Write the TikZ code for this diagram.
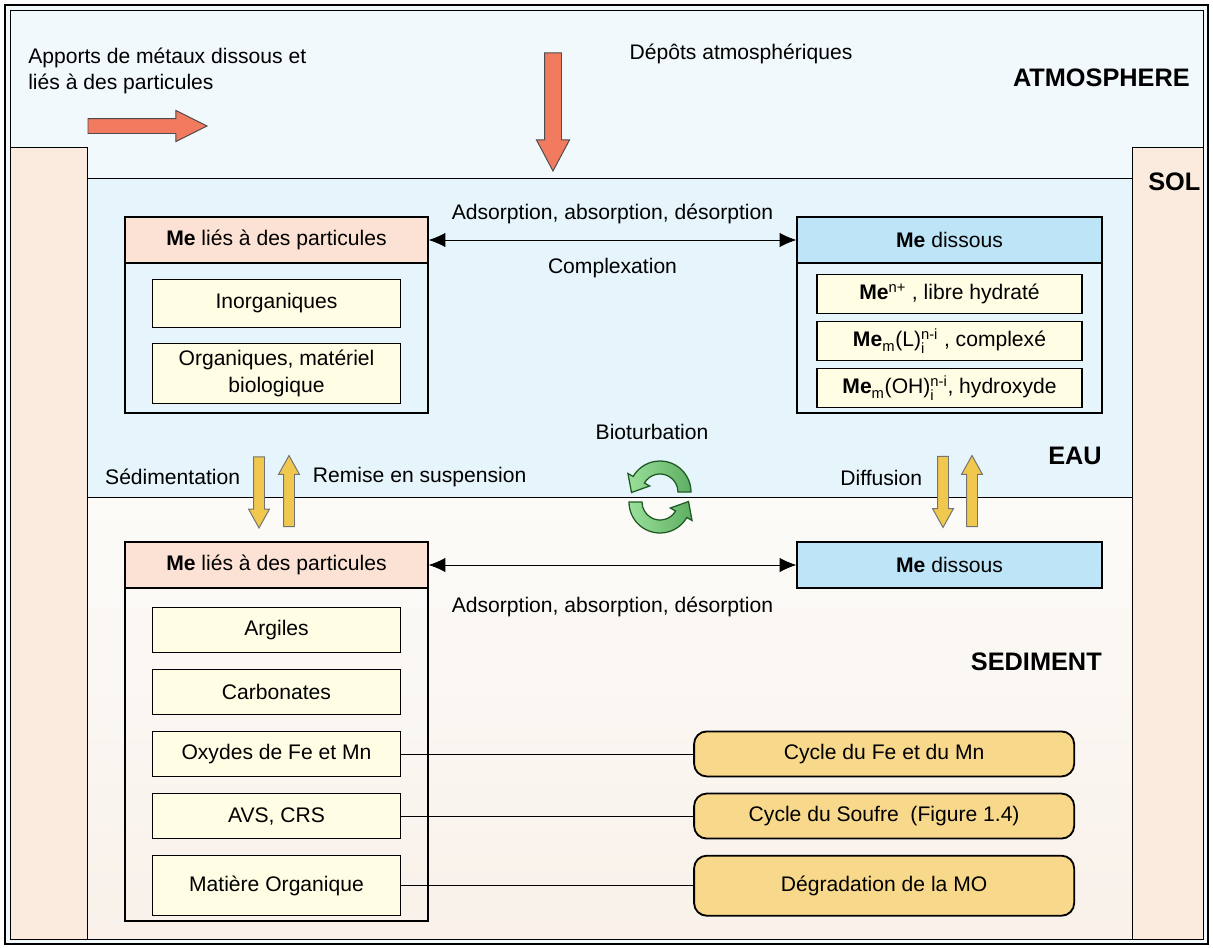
\documentclass[tikz,border=0pt]{standalone}
\usepackage{amsmath}
\usepackage{fontspec}
\setmainfont{Liberation Sans}
\usetikzlibrary{shapes.arrows, arrows.meta, positioning}

\definecolor{atmo}{HTML}{F2F9FC}
\definecolor{eau}{HTML}{E6F4FB}
\definecolor{sedhaut}{HTML}{FCFBF8}
\definecolor{sedbas}{HTML}{F9F1EA}
\definecolor{sol}{HTML}{FBEBDF}
\definecolor{peche}{HTML}{FBE2D4}
\definecolor{bleuciel}{HTML}{BEE5F7}
\definecolor{creme}{HTML}{FFFDE3}
\definecolor{ocre}{HTML}{F8D88A}
\definecolor{rouge}{HTML}{F27B5F}
\definecolor{jaune}{HTML}{F1C84E}
\definecolor{vertclair}{HTML}{9BE09B}
\definecolor{vertmoyen}{HTML}{5DAE62}
\definecolor{vertfonce}{HTML}{1F5A25}

\newcommand{\indsup}[2]{\ensuremath{_{\text{#1}}^{\text{#2}}}}

\tikzset{
    entete/.style={draw, line width=0.8pt, minimum height=1.15cm, inner sep=0pt},
    cadre/.style={draw, line width=0.8pt, inner sep=0pt},
    souscase/.style={draw, line width=0.8pt, fill=creme, minimum width=6.2cm, align=center, inner sep=0pt},
    souscaseb/.style={draw, line width=0.8pt, fill=creme, minimum width=6.625cm, minimum height=0.975cm, inner sep=0pt},
    cyclebox/.style={draw, line width=1.3pt, rounded corners=9pt, fill=ocre, minimum width=9.5cm, minimum height=1.125cm},
    echange/.style={<->, line width=0.6pt},
    grosse/.style={single arrow, draw=black!70, line width=0.7pt},
    flechejaune/.style={grosse, fill=jaune, draw=black!55, inner sep=0.125cm, minimum height=1.775cm, single arrow head extend=0.125cm, single arrow tip angle=58},
    vertfleche/.style={draw=vertfonce, line width=0.9pt, left color=vertclair, right color=vertmoyen},
    titre/.style={font=\fontsize{18}{22}\selectfont\bfseries, inner sep=0pt},
}

\begin{document}
\begin{tikzpicture}[x=0.025cm, y=-0.025cm, >={Latex[length=0.42cm, width=0.36cm]}, font=\fontsize{15}{19}\selectfont]
    \useasboundingbox (0,0) rectangle (1213,948);

    % zones
    \fill[white] (0,0) rectangle (1213,948);
    \fill[atmo] (5,5) rectangle (1208,944);
    \fill[sol] (10,147) rectangle (87,939);
    \fill[sol] (1132,147) rectangle (1203,939);
    \fill[eau] (87,178) rectangle (1132,497);
    \shade[top color=sedhaut, bottom color=sedbas] (87,497) rectangle (1132,939);
    \draw[line width=0.7pt] (10,147) -- (87,147) -- (87,939);
    \draw[line width=0.7pt] (1203,147) -- (1132,147) -- (1132,939);
    \draw[line width=0.7pt] (87,178) -- (1132,178);
    \draw[line width=0.7pt] (87,497) -- (1132,497);
    \draw[line width=1.6pt] (5,5) rectangle (1208,944);
    \draw[line width=0.6pt] (10,10) rectangle (1203,939);

    \node[titre, anchor=east] (atmosphere) at (1190,78) {ATMOSPHERE};
    \node[titre, anchor=west] (sol) at (1148,182) {SOL};
    \node[titre, anchor=east] (eaulbl) at (1102,456) {EAU};
    \node[titre, anchor=east] (sediment) at (1102,662) {SEDIMENT};

    % apports
    \node[align=left, anchor=west, inner sep=0pt] (apports) at (28,71) {Apports de métaux dissous et\\liés à des particules};
    \node[grosse, fill=rouge, inner sep=0.175cm, minimum height=2.975cm, single arrow head extend=0.2cm, single arrow tip angle=53] (apportsfl) at (140,126) {};
    \node (depots) at (741,54) {Dépôts atmosphériques};
    \node[grosse, fill=rouge, shape border rotate=270, inner sep=0.2cm, minimum height=2.95cm, single arrow head extend=0.2cm, single arrow tip angle=56] (depotsfl) at (553,104) {};

    % eau
    \node[cadre, minimum width=7.575cm, minimum height=4.875cm] (cadreEauG) at (276.5,315.5) {};
    \node[cadre, minimum width=7.625cm, minimum height=4.875cm] (cadreEauD) at (949.5,315.5) {};
    \node[entete, fill=peche, minimum width=7.575cm] (liesEau) at (276.5,240) {\textbf{Me} liés à des particules};
    \node[entete, fill=bleuciel, minimum width=7.625cm] (dissEau) at (949.5,240) {\textbf{Me} dissous};
    \node[souscase, minimum height=1.2cm, below=0.375cm of liesEau] (inorg) {Inorganiques};
    \node[souscase, minimum height=1.5cm, below=0.375cm of inorg] (org) {Organiques, matériel\\biologique};
    \node[souscaseb, below=0.25cm of dissEau] (libre) {\textbf{Me}\textsuperscript{n+} , libre hydraté};
    \node[souscaseb, below=0.175cm of libre] (complexe) {\textbf{Me}\indsup{m}{}(L)\indsup{i}{n-i} , complexé};
    \node[souscaseb, below=0.175cm of complexe] (hydroxyde) {\textbf{Me}\indsup{m}{}(OH)\indsup{i}{n-i}, hydroxyde};
    \draw[echange] (liesEau) -- (dissEau)
        node[midway, above=0.28cm] (adsEau) {Adsorption, absorption, désorption}
        node[midway, below=0.33cm] (complex) {Complexation};

    % interface
    \node[anchor=east] (sedim) at (245,477) {Sédimentation};
    \node[anchor=west] (remise) at (308,477) {Remise en suspension};
    \node[flechejaune, shape border rotate=270] (sedfl) at (259,487.5) {};
    \node[flechejaune, shape border rotate=90] (remfl) at (289,496) {};
    \node[anchor=east] (diffusion) at (927,478) {Diffusion};
    \node[flechejaune, shape border rotate=270] (difbas) at (943,487) {};
    \node[flechejaune, shape border rotate=90] (difhaut) at (972,496) {};
    \node (bioturb) at (652,432) {Bioturbation};
    \begin{scope}[shift={(660,497)}, y=0.025cm]
        \path[vertfleche] (18,5) -- (31,5) arc[start angle=0, end angle=150, radius=31] -- ++(150:6)
            -- (-28.5,4.5) -- (-10.39,11) -- (-15.59,14) arc[start angle=150, end angle=0, radius=18] -- cycle;
        \path[vertfleche, rotate=180] (18,5) -- (31,5) arc[start angle=0, end angle=150, radius=31] -- ++(150:6)
            -- (-28.5,4.5) -- (-10.39,11) -- (-15.59,14) arc[start angle=150, end angle=0, radius=18] -- cycle;
    \end{scope}

    % sediment
    \node[cadre, minimum width=7.575cm, minimum height=9.475cm] (cadreSed) at (276.5,731.5) {};
    \node[entete, fill=peche, minimum width=7.575cm] (liesSed) at (276.5,565) {\textbf{Me} liés à des particules};
    \node[entete, fill=bleuciel, minimum width=7.625cm] (dissSed) at (949.5,565) {\textbf{Me} dissous};
    \draw[echange] (liesSed) -- (dissSed)
        node[midway, below=0.68cm] (adsSed) {Adsorption, absorption, désorption};
    \node[souscase, minimum height=1.125cm, below=0.45cm of liesSed] (argiles) {Argiles};
    \node[souscase, minimum height=1.125cm, below=0.4cm of argiles] (carbonates) {Carbonates};
    \node[souscase, minimum height=1.125cm, below=0.4cm of carbonates] (oxydes) {Oxydes de Fe et Mn};
    \node[souscase, minimum height=1.125cm, below=0.4cm of oxydes] (avs) {AVS, CRS};
    \node[souscase, minimum height=1.5cm, below=0.4cm of avs] (mo) {Matière Organique};
    \node[cyclebox, right=7.3cm of oxydes] (cyclefe) {Cycle du Fe et du Mn};
    \node[cyclebox, right=7.3cm of avs] (cyclesoufre) {Cycle du Soufre~ (Figure 1.4)};
    \node[cyclebox, minimum height=1.5cm, right=7.3cm of mo] (degradation) {Dégradation de la MO};
    \draw[line width=0.6pt] (oxydes) -- (cyclefe);
    \draw[line width=0.6pt] (avs) -- (cyclesoufre);
    \draw[line width=0.6pt] (mo) -- (degradation);
\end{tikzpicture}
\end{document}
